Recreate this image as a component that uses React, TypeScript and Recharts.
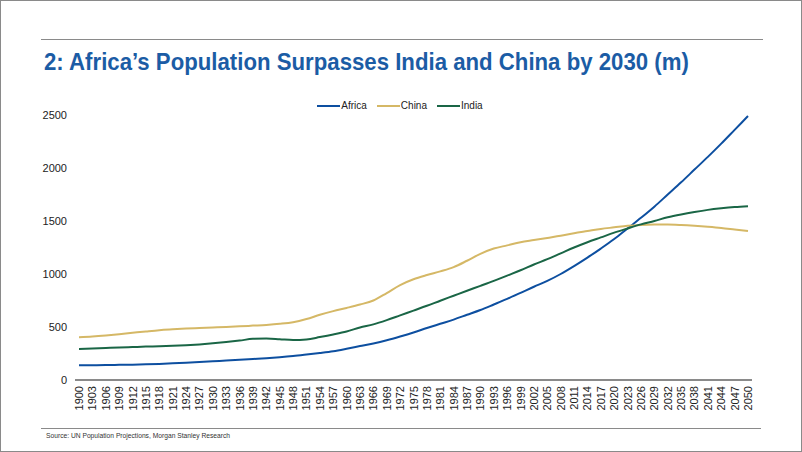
import React from 'react'
import { LineChart, Line, XAxis, YAxis, Legend } from 'recharts'

const years = [
  1900, 1903, 1906, 1909, 1912, 1915, 1918, 1921, 1924, 1927, 1930, 1933, 1936, 1939, 1942, 1945, 1948,
  1951, 1954, 1957, 1960, 1963, 1966, 1969, 1972, 1975, 1978, 1981, 1984, 1987, 1990, 1993, 1996, 1999,
  2002, 2005, 2008, 2011, 2014, 2017, 2020, 2023, 2026, 2029, 2032, 2035, 2038, 2041, 2044, 2047, 2050,
]

const africa = [
  139, 140, 141, 143, 145, 148, 152, 157, 163, 170, 177, 183, 190, 198, 206, 215, 226,
  240, 255, 272, 295, 320, 345, 375, 410, 448, 490, 530, 570, 615, 660, 712, 765, 822,
  880, 935, 1000, 1075, 1155, 1240, 1330, 1430, 1530, 1635, 1750, 1865, 1985, 2105, 2230, 2360, 2490,
]

const china = [
  403, 410, 420, 432, 445, 458, 470, 478, 485, 490, 495, 500, 506, 513, 520, 530, 545,
  575, 615, 650, 680, 712, 750, 820, 895, 950, 990, 1025, 1065, 1125, 1190, 1240, 1270, 1300,
  1320, 1340, 1360, 1385, 1405, 1425, 1440, 1455, 1463, 1466, 1466, 1462, 1455, 1446, 1435, 1420, 1405,
]

const india = [
  292, 297, 302, 307, 311, 315, 318, 322, 328, 336, 346, 358, 372, 388, 392, 385, 377,
  382, 405, 430, 458, 495, 525, 565, 610, 655, 700, 748, 795, 842, 888, 935, 985, 1035,
  1090, 1140, 1195, 1250, 1300, 1345, 1390, 1430, 1468, 1500, 1535, 1562, 1585, 1605, 1620, 1632, 1640,
]

const yTicks = [0, 500, 1000, 1500, 2000, 2500]

const data = years.map((year, i) => ({
  year: String(year),
  Africa: africa[i],
  China: china[i],
  India: india[i],
}))

const FONT = '"Liberation Sans", Arial, sans-serif'

const YearTick = (props: any) => {
  const { x, y, payload } = props
  return (
    <text
      x={x}
      y={y}
      transform={`rotate(-90, ${x}, ${y})`}
      textAnchor="end"
      dominantBaseline="central"
      fontSize={11}
      fontFamily={FONT}
      fill="#222"
    >
      {payload.value}
    </text>
  )
}

// legend: short line then the name, almost no gap
const LegendRow = (props: any) => {
  const { payload } = props
  return (
    <div style={{ display: 'flex', justifyContent: 'center', fontSize: 10, fontFamily: FONT, color: '#222' }}>
      {payload.map((entry: any) => (
        <div key={entry.value} style={{ display: 'flex', alignItems: 'center', marginRight: 10 }}>
          <div style={{ width: 23, height: 2, background: entry.color, marginRight: 1 }} />
          <span>{entry.value}</span>
        </div>
      ))}
    </div>
  )
}

export default function App() {
  return (
    <div
      style={{
        position: 'absolute',
        left: 0,
        top: 0,
        width: 802,
        height: 452,
        background: '#fff',
        border: '1px solid #8a8a8a',
        boxSizing: 'border-box',
        overflow: 'hidden',
        fontFamily: FONT,
      }}
    >
      <div style={{ position: 'absolute', left: 40, top: 38, width: 722, height: 0, borderTop: '1px solid #8a8a8a' }} />
      <div
        style={{
          position: 'absolute',
          left: 43,
          top: 48,
          fontWeight: 'bold',
          fontSize: 24,
          lineHeight: '26px',
          color: '#1b5ca5',
          whiteSpace: 'nowrap',
          transform: 'scaleX(0.925)',
          transformOrigin: 'left top',
        }}
      >
        2: Africa’s Population Surpasses India and China by 2030 (m)
      </div>

      <div style={{ position: 'absolute', left: -1, top: -1 }}>
        <LineChart width={802} height={452} data={data} margin={{ top: 115, right: 50, bottom: 0, left: 15 }}>
          <XAxis
            dataKey="year"
            interval={0}
            height={72}
            padding={{ left: 4, right: 4 }}
            tick={<YearTick />}
            tickLine={false}
            tickMargin={0}
            axisLine={{ stroke: '#8a8a8a', strokeWidth: 2 }}
          />
          <YAxis
            domain={[0, 2500]}
            ticks={yTicks}
            width={60}
            axisLine={false}
            tickLine={false}
            tick={{ fontSize: 11, fill: '#222', fontFamily: FONT }}
          />
          <Legend
            verticalAlign="middle"
            align="center"
            content={<LegendRow />}
            wrapperStyle={{ top: 100, left: 4, width: 802 }}
          />
          <Line dataKey="Africa" stroke="#0d4fa0" strokeWidth={2} dot={false} type="monotone" isAnimationActive={false} />
          <Line dataKey="China" stroke="#d5b866" strokeWidth={2} dot={false} type="monotone" isAnimationActive={false} />
          <Line dataKey="India" stroke="#1a6646" strokeWidth={2} dot={false} type="monotone" isAnimationActive={false} />
        </LineChart>
      </div>

      <div style={{ position: 'absolute', left: 40, top: 427, width: 720, height: 0, borderTop: '1px solid #8a8a8a' }} />
      <div style={{ position: 'absolute', left: 45, top: 431, fontSize: 6.7, color: '#333', whiteSpace: 'nowrap' }}>
        Source: UN Population Projections, Morgan Stanley Research
      </div>
    </div>
  )
}
